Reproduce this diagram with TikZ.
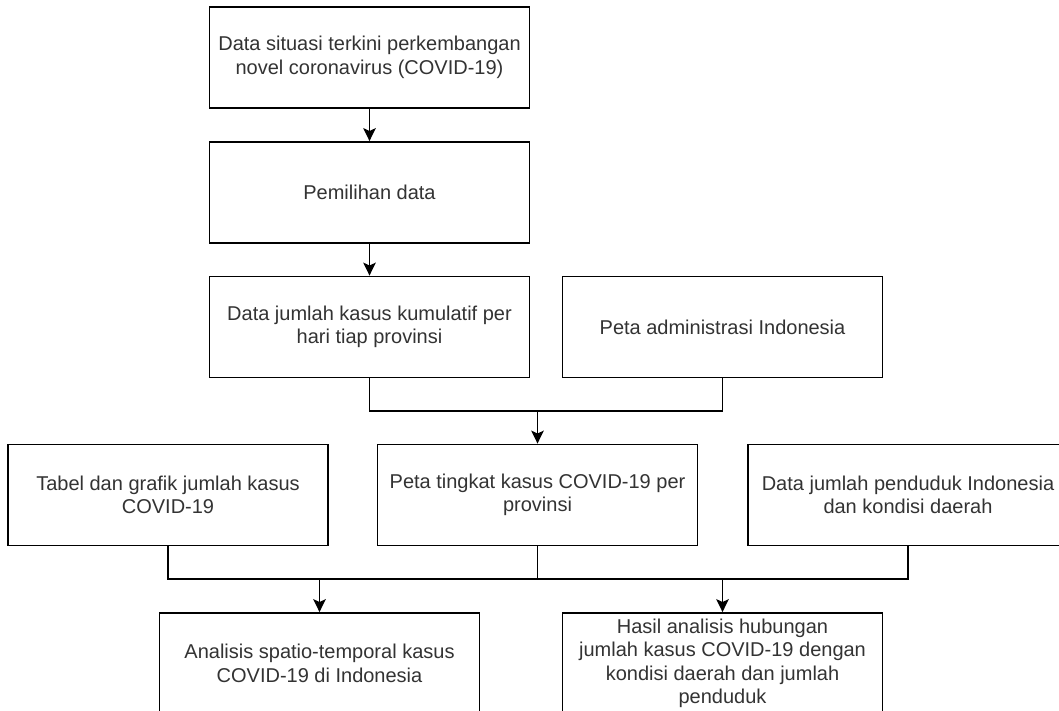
\documentclass[tikz,border=0pt]{standalone}
\usepackage{fontspec}
\setmainfont{Liberation Sans}
\usetikzlibrary{arrows.meta}
\begin{document}
\begin{tikzpicture}[x=1pt,y=-1pt,
  box/.style={draw=black, line width=1.8pt, fill=white, minimum width=320pt, minimum height=101pt,
    inner sep=0pt, align=center, text=black!80, font=\fontsize{20}{23.5}\selectfont},
  link/.style={draw=black, line width=1.8pt},
  arr/.style={link, -{Stealth[length=13pt,width=12.5pt,inset=3pt]}}]
\clip (0,0) rectangle (1059,711);
\fill[white] (0,0) rectangle (1059,711);
\node[box] (b1) at (369.5,57.5) {Data situasi terkini perkembangan\\novel coronavirus (COVID-19)};
\node[box] (b2) at (369.5,192.5) {Pemilihan data};
\node[box] (b3) at (369.5,327) {Data jumlah kasus kumulatif per\\hari tiap provinsi};
\node[box] (b4) at (722.5,327) {Peta administrasi Indonesia};
\node[box] (b5) at (168,495) {Tabel dan grafik jumlah kasus\\COVID-19};
\node[box] (b6) at (537.5,495) {Peta tingkat kasus COVID-19 per\\provinsi};
\node[box] (b7) at (908,495) {Data jumlah penduduk Indonesia\\dan kondisi daerah};
\node[box] (b8) at (319.5,663.5) {Analisis spatio-temporal kasus\\COVID-19 di Indonesia};
\node[box] (b9) at (722.5,663.5) {Hasil analisis hubungan\\jumlah kasus COVID-19 dengan\\kondisi daerah dan jumlah\\penduduk};
\coordinate (j1) at (537.5,411);
\coordinate (j2) at (319.5,579);
\coordinate (j3) at (722.5,579);
\draw[arr] (b1) -- (b2);
\draw[arr] (b2) -- (b3);
\draw[link] (b3.south) |- (j1);
\draw[link] (b4.south) |- (j1);
\draw[arr] (j1) -- (b6.north);
\draw[link] (b5.south) |- (b7.south |- j2) -- (b7.south);
\draw[link] (b6.south) -- (b6.south |- j2);
\draw[arr] (j2) -- (b8.north);
\draw[arr] (j3) -- (b9.north);
\end{tikzpicture}
\end{document}
